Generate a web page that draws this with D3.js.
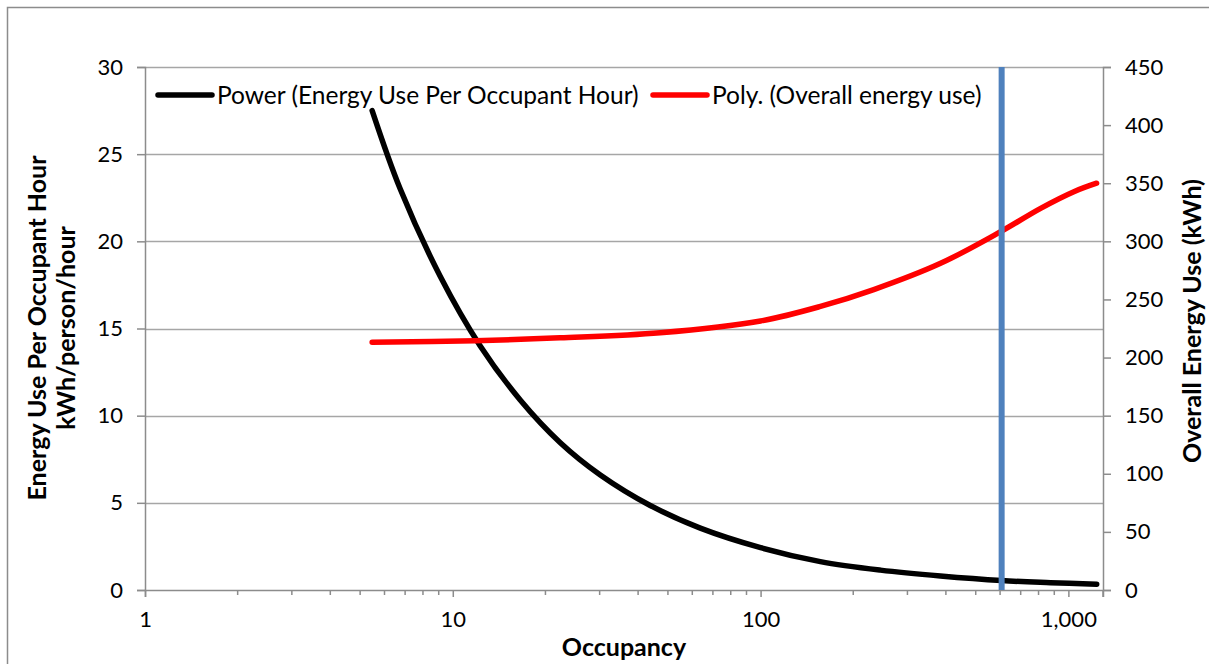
<!DOCTYPE html>
<html>
<head>
<meta charset="utf-8">
<script src="https://cdn.jsdelivr.net/npm/d3@7"></script>
<style>
  html, body { margin: 0; padding: 0; background: #fff; }
  svg { display: block; }
  text { font-family: Lato, "Open Sans", sans-serif; fill: #000; }
</style>
</head>
<body>
<svg id="chart" width="1209" height="664"></svg>
<script>
// ---- data ----
const powerOccupancy = [5.47, 6.75, 9.10, 12.28, 16.56, 22.35, 30.15, 43.8, 63.7, 100, 156.4, 245, 384, 607, 875, 1236];
const powerValues    = [27.5, 23.0, 18.0, 14.0, 10.9, 8.45, 6.6, 4.85, 3.55, 2.43, 1.63, 1.14, 0.80, 0.54, 0.42, 0.33];

const polyOccupancy  = [5.47, 11.83, 22.3, 47.2, 100, 156.5, 233.2, 384.4, 602.3, 812.6, 1042, 1235];
const polyValues     = [213.1, 214.5, 217.0, 221.4, 231.5, 244.0, 258.5, 281.1, 308.3, 328.4, 342.7, 350.0];

const markerOccupancy = 607;

const leftTicks  = [0, 5, 10, 15, 20, 25, 30];
const rightTicks = [0, 50, 100, 150, 200, 250, 300, 350, 400, 450];
const xMajorTicks = [1, 10, 100, 1000];
const xTickLabels = ["1", "10", "100", "1,000"];

const legendLabels = ["Power (Energy Use Per Occupant Hour)", "Poly. (Overall energy use)"];
const legendColors = ["#000000", "#ff0000"];

const titleLeft1 = "Energy Use Per Occupant Hour";
const titleLeft2 = "kWh/person/hour";
const titleRight = "Overall Energy Use (kWh)";
const titleX = "Occupancy";

// ---- layout ----
const svg = d3.select("#chart");
const L = 145, R = 1103, T = 67, B = 590;
const xMax = Math.pow(10, 3.1125);

const x = d3.scaleLog().domain([1, xMax]).range([L, R]);
const yL = d3.scaleLinear().domain([0, 30]).range([B, T]);
const yR = d3.scaleLinear().domain([0, 450]).range([B, T]);

const axisColor = "#8c8c8c";
const gridColor = "#a6a6a6";
const tickFs = 22;
const legendFs = 24.5;
const titleFs = 25;

// chart border
svg.append("path").attr("d", `M7.5,664 V7.5 H1209`).attr("fill", "none").attr("stroke", "#8c8c8c").attr("stroke-width", 1.5);

// gridlines
svg.append("g").selectAll("line").data(leftTicks.filter(d => d > 0)).join("line")
  .attr("x1", L).attr("x2", R).attr("y1", d => Math.round(yL(d)) + 0.5).attr("y2", d => Math.round(yL(d)) + 0.5)
  .attr("stroke", gridColor).attr("stroke-width", 1.5);

// left axis
const gLeft = svg.append("g").attr("transform", `translate(${L},0)`)
  .call(d3.axisLeft(yL).tickValues(leftTicks).tickSize(8).tickPadding(14).tickFormat(d3.format("d")));
// right axis
const gRight = svg.append("g").attr("transform", `translate(${R},0)`)
  .call(d3.axisRight(yR).tickValues(rightTicks).tickSize(8).tickPadding(14).tickFormat(d3.format("d")));
// bottom axis
const minorTicks = [];
for (let dec = 1; dec <= 1000; dec *= 10) for (let k = 2; k <= 9; k++) if (dec * k <= xMax) minorTicks.push(dec * k);
const gBottom = svg.append("g").attr("transform", `translate(0,${B})`)
  .call(d3.axisBottom(x).tickValues(xMajorTicks).tickSize(7).tickPadding(14).tickFormat((d, i) => xTickLabels[i]));
svg.append("g").attr("transform", `translate(0,${B})`).selectAll("line").data(minorTicks).join("line")
  .attr("x1", d => x(d)).attr("x2", d => x(d)).attr("y1", 0).attr("y2", 5)
  .attr("stroke", axisColor).attr("stroke-width", 1.5);

[gLeft, gRight, gBottom].forEach(g => {
  g.selectAll(".domain").attr("stroke", axisColor).attr("stroke-width", 1.5);
  g.selectAll(".tick line").attr("stroke", axisColor).attr("stroke-width", 1.5);
  g.selectAll(".tick text").attr("font-size", tickFs).attr("font-family", "Lato, sans-serif").attr("fill", "#000");
});
// right axis line extends a bit down
svg.append("line").attr("x1", R).attr("x2", R).attr("y1", B).attr("y2", B + 7).attr("stroke", axisColor).attr("stroke-width", 1.5);

// curves
const line = d3.line().curve(d3.curveCatmullRom.alpha(0.5));
svg.append("path")
  .attr("d", line(powerOccupancy.map((o, i) => [x(o), yL(powerValues[i])])))
  .attr("fill", "none").attr("stroke", "#000").attr("stroke-width", 5.5).attr("stroke-linecap", "round");

svg.append("path")
  .attr("d", line(polyOccupancy.map((o, i) => [x(o), yR(polyValues[i])])))
  .attr("fill", "none").attr("stroke", "#ff0000").attr("stroke-width", 5.5).attr("stroke-linecap", "round");

// marker line
svg.append("line").attr("x1", x(markerOccupancy)).attr("x2", x(markerOccupancy)).attr("y1", T).attr("y2", B)
  .attr("stroke", "#4f81bd").attr("stroke-width", 6);

// legend
const legendX = [158, 653];
legendLabels.forEach((lab, i) => {
  svg.append("line").attr("x1", legendX[i]).attr("x2", legendX[i] + 54).attr("y1", 95).attr("y2", 95)
    .attr("stroke", legendColors[i]).attr("stroke-width", 5.5).attr("stroke-linecap", "round");
  svg.append("text").attr("x", legendX[i] + 59).attr("y", 95).attr("dy", "0.35em")
    .attr("font-size", legendFs).text(lab);
});

// axis titles
svg.append("text").attr("transform", `translate(37,328) rotate(-90)`).attr("text-anchor", "middle")
  .attr("dy", "0.35em").attr("font-size", titleFs).attr("font-weight", "bold").text(titleLeft1);
svg.append("text").attr("transform", `translate(66,328) rotate(-90)`).attr("text-anchor", "middle")
  .attr("dy", "0.35em").attr("font-size", titleFs).attr("font-weight", "bold").text(titleLeft2);
svg.append("text").attr("transform", `translate(1192,321) rotate(-90)`).attr("text-anchor", "middle")
  .attr("dy", "0.35em").attr("font-size", titleFs).attr("font-weight", "bold").text(titleRight);
svg.append("text").attr("x", 624).attr("y", 647).attr("text-anchor", "middle")
  .attr("dy", "0.35em").attr("font-size", titleFs).attr("font-weight", "bold").text(titleX);
</script>
</body>
</html>
